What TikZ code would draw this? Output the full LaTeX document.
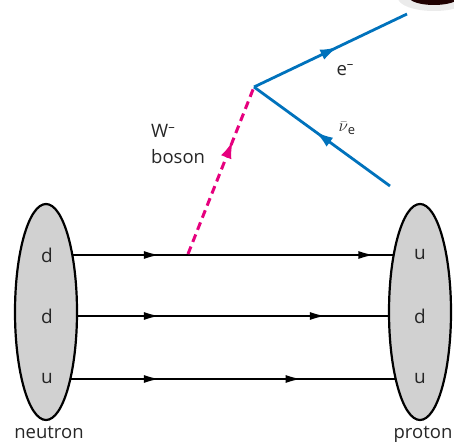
\documentclass[tikz,border=0pt]{standalone}
\usepackage{fontspec}
\setmainfont{Open Sans}
\usetikzlibrary{arrows.meta, shapes.geometric, decorations.markings, backgrounds}
\definecolor{wpink}{RGB}{230,0,126}
\definecolor{lepblue}{RGB}{0,114,188}
\tikzset{
  hadron/.style={ellipse, draw=black, line width=2.2pt, fill=black!18,
                 minimum width=62pt, minimum height=216pt, inner sep=0pt},
  qlbl/.style={font=\fontsize{19}{22}\selectfont, text=black!85},
  lbl/.style={font=\fontsize{18.5}{22}\selectfont, text=black!85, align=left},
  midtip/.style 2 args={postaction={decorate}, decoration={markings,
      mark=at position #1 with {\arrow{Latex[length=15pt,width=8pt]}},
      mark=at position #2 with {\arrow{Latex[length=15pt,width=8pt]}}}},
  onetip/.style={postaction={decorate}, decoration={markings,
      mark=at position #1 with {\arrow[solid]{Latex[length=18pt,width=11pt]}}}},
  quark/.style={line width=1.3pt, black},
  wline/.style={wpink, line width=3pt, dash pattern=on 8pt off 5pt},
  lepton/.style={lepblue, line width=2.8pt},
}
\begin{document}
\begin{tikzpicture}[x=1pt, y=-1pt]
  \useasboundingbox (0,0) rectangle (454,441);
  \clip (0,0) rectangle (454,441);
  %% stray object at the top edge
  \fill[black!8] (434,-2) ellipse (36 and 13);
  \fill[black!70!red!40!black] (434,-3) ellipse (25 and 8);
  %% hadrons
  \node[hadron] (neutron) at (46,312) {};
  \node[hadron] (proton)  at (420,312) {};
  \node[qlbl] (nd1) at (47,255) {d};
  \node[qlbl] (nd2) at (47,316) {d};
  \node[qlbl] (nu)  at (47,379) {u};
  \node[qlbl] (pu1) at (420,255) {u};
  \node[qlbl] (pd)  at (420,316) {d};
  \node[qlbl] (pu2) at (420,379) {u};
  \node[lbl, anchor=base] (nlbl) at (49,438) {neutron};
  \node[lbl, anchor=base] (plbl) at (423,438) {proton};
  %% quark lines
  \begin{scope}[on background layer]
    \draw[quark, midtip={0.30}{0.875}] (nd1.center) -- (pu1.center);
    \draw[quark, midtip={0.30}{0.745}] (nd2.center) -- (pd.center);
    \draw[quark, midtip={0.30}{0.68}] (nu.center) -- (pu2.center);
  \end{scope}
  %% W boson and leptons
  \coordinate (wstart) at (188,254);
  \coordinate (vtx) at (254,87);
  \coordinate (eend) at (407,14);
  \coordinate (nustart) at (390,186);
  \draw[wline, onetip=0.68] (wstart) -- (vtx);
  \draw[lepton, onetip=0.55] (vtx) -- (eend);
  \draw[lepton, onetip=0.55] (nustart) -- (vtx);
  \node[lbl, anchor=west] (elbl) at (333,70) {e\textsuperscript{–}};
  \node[lbl, anchor=west] (nulbl) at (335,128) {$\bar{\nu}$\textsubscript{e}};
  \node[lbl, anchor=north west, inner sep=0pt, font=\fontsize{18.5}{26}\selectfont]
    (wlbl) at (151,124) {W\textsuperscript{–}\\boson};
\end{tikzpicture}
\end{document}
